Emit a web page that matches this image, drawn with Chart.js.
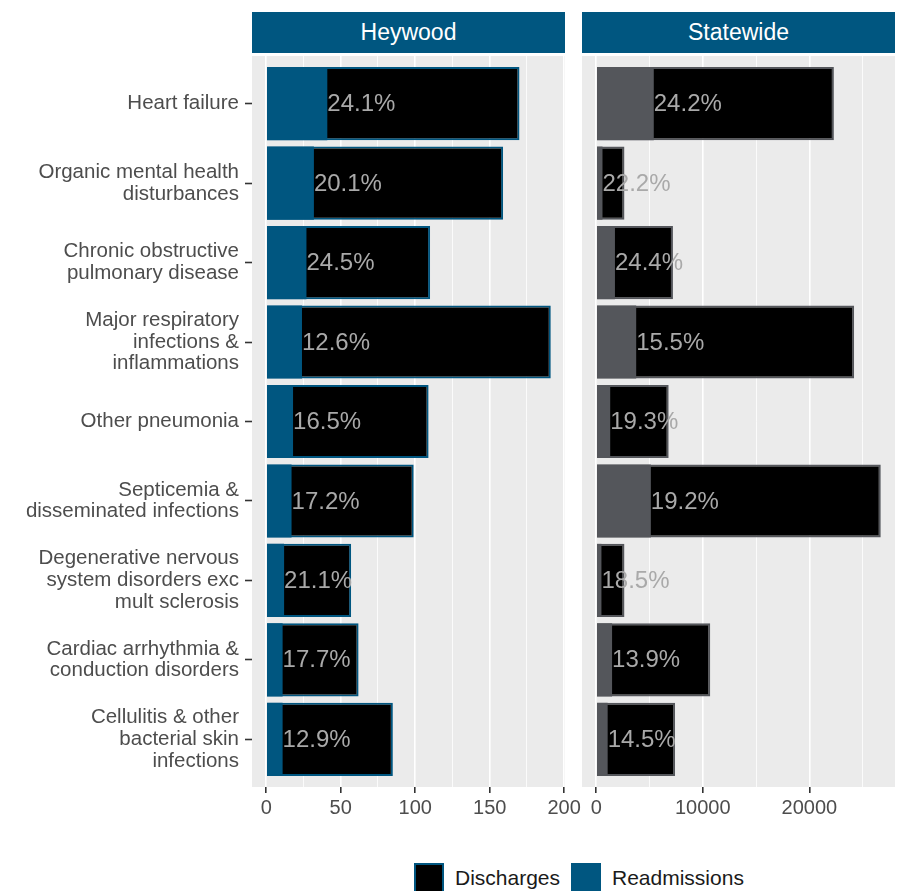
<!DOCTYPE html>
<html>
<head>
<meta charset="utf-8">
<script src="https://cdn.jsdelivr.net/npm/chart.js@4.4.1/dist/chart.umd.min.js"></script>
<style>
  body { margin: 0; background: #fff; font-family: "Liberation Sans", Arial, sans-serif; }
  #wrap { position: relative; width: 897px; height: 891px; overflow: hidden; }
  canvas { position: absolute; }
  .strip { position: absolute; top: 12px; height: 41px; line-height: 41px; background: #005680;
           color: #fff; text-align: center; font-size: 23px; }
  .key { position: absolute; top: 863px; width: 30px; height: 30px; box-sizing: border-box; }
  .ktext { position: absolute; top: 866px; font-size: 21px; color: #1a1a1a; line-height: 24px; }
</style>
</head>
<body>
<div id="wrap">
  <div class="strip" style="left:252px;width:313px;">Heywood</div>
  <div class="strip" style="left:582px;width:313px;">Statewide</div>
  <canvas id="leftChart" width="600" height="774" style="left:0;top:56px;"></canvas>
  <canvas id="rightChart" width="315" height="774" style="left:582px;top:56px;"></canvas>
  <div class="key" style="left:414px;background:#000;border:2.5px solid #005680;"></div>
  <div class="ktext" style="left:455px;">Discharges</div>
  <div class="key" style="left:571px;background:#005680;"></div>
  <div class="ktext" style="left:612px;">Readmissions</div>
</div>
<script>
// --- Data ---
const categories = [
  ['Heart failure'],
  ['Organic mental health', 'disturbances'],
  ['Chronic obstructive', 'pulmonary disease'],
  ['Major respiratory', 'infections &', 'inflammations'],
  ['Other pneumonia'],
  ['Septicemia &', 'disseminated infections'],
  ['Degenerative nervous', 'system disorders exc', 'mult sclerosis'],
  ['Cardiac arrhythmia &', 'conduction disorders'],
  ['Cellulitis & other', 'bacterial skin', 'infections']
];

const heywoodDischarges = [170, 159, 110, 191, 109, 99, 57, 62, 85];
const heywoodReadmissions = [41, 32, 27, 24, 18, 17, 12, 11, 11];
const heywoodPct = ['24.1%', '20.1%', '24.5%', '12.6%', '16.5%', '17.2%', '21.1%', '17.7%', '12.9%'];

const statewideDischarges = [22300, 2650, 7200, 24200, 6800, 26700, 2650, 10700, 7400];
const statewideReadmissions = [5400, 588, 1757, 3750, 1312, 5126, 490, 1487, 1073];
const statewidePct = ['24.2%', '22.2%', '24.4%', '15.5%', '19.3%', '19.2%', '18.5%', '13.9%', '14.5%'];

const heywoodTicks = [0, 50, 100, 150, 200];
const statewideTicks = [0, 10000, 20000];

// --- Colours ---
const BLUE = '#005680';
const GREY = '#54565b';
const PANEL = '#ebebeb';
const AXIS_TEXT = '#4d4d4d';
const FONT = '"Liberation Sans", Arial, sans-serif';

// panel background
const panelBg = {
  id: 'panelBg',
  beforeDraw(chart) {
    const a = chart.chartArea;
    const c = chart.ctx;
    c.save();
    c.fillStyle = PANEL;
    c.fillRect(a.left, a.top, a.right - a.left, a.bottom - a.top);
    c.restore();
  }
};

// percentage text at the end of the readmissions bar
const barLabels = {
  id: 'barLabels',
  afterDatasetsDraw(chart, args, opts) {
    const c = chart.ctx;
    const xs = chart.scales.x;
    const readm = chart.data.datasets[0].data;
    c.save();
    c.font = '24px ' + FONT;
    c.fillStyle = '#a9a9a9';
    c.textAlign = 'left';
    c.textBaseline = 'middle';
    readm.forEach((p, i) => {
      c.fillText(opts.labels[i], xs.getPixelForValue(p.x), chart.scales.y.getPixelForValue(p.y) + 1);
    });
    c.restore();
  }
};

function makeChart(canvasId, discharges, readmissions, pct, color, majors, minorStep, showY, padRight) {
  const maxVal = Math.max(...discharges);
  const pad = maxVal * 0.05;
  const minorTicks = [];
  for (let v = 0; v <= maxVal + pad; v += minorStep) minorTicks.push(v);

  return new Chart(document.getElementById(canvasId), {
    type: 'bar',
    data: {
      datasets: [
        {
          label: 'Readmissions',
          data: readmissions.map((v, i) => ({ x: v, y: i })),
          backgroundColor: color,
          borderColor: color,
          borderWidth: 0,
          grouped: false,
          barPercentage: 0.92,
          categoryPercentage: 1,
          order: 0
        },
        {
          label: 'Discharges',
          data: discharges.map((v, i) => ({ x: v, y: i })),
          backgroundColor: '#000',
          borderColor: color,
          borderWidth: 2,
          borderSkipped: false,
          grouped: false,
          barPercentage: 0.92,
          categoryPercentage: 1,
          order: 1
        }
      ]
    },
    options: {
      indexAxis: 'y',
      responsive: false,
      animation: false,
      layout: { padding: { top: 0, left: 0, right: padRight, bottom: 0 } },
      plugins: {
        legend: { display: false },
        tooltip: { enabled: false },
        barLabels: { labels: pct }
      },
      scales: {
        x: {
          type: 'linear',
          min: -pad,
          max: maxVal + pad,
          afterBuildTicks: (axis) => { axis.ticks = minorTicks.map(v => ({ value: v })); },
          afterFit: (axis) => { axis.height = 43; },
          border: { display: false },
          grid: {
            color: '#ffffff',
            lineWidth: (ctx) => (majors.includes(ctx.tick.value) ? 1.6 : 0.8),
            drawTicks: true,
            tickLength: 6,
            tickWidth: 1.6,
            tickColor: (ctx) => (majors.includes(ctx.tick.value) ? '#333333' : 'rgba(0,0,0,0)')
          },
          ticks: {
            autoSkip: false,
            maxRotation: 0,
            padding: 3,
            color: AXIS_TEXT,
            font: { size: 20, family: FONT },
            callback: (v) => (majors.includes(v) ? String(v) : '')
          }
        },
        y: {
          type: 'linear',
          display: showY,
          reverse: true,
          offset: false,
          min: -0.6,
          max: categories.length - 0.4,
          afterBuildTicks: (axis) => { axis.ticks = categories.map((c, i) => ({ value: i })); },
          afterFit: (axis) => {
            axis.width = showY ? 252 : 0;
            axis.paddingTop = 0;
            axis.paddingBottom = 0;
          },
          border: { display: false },
          grid: {
            offset: false,
            drawOnChartArea: false,
            drawTicks: true,
            tickLength: 7,
            tickWidth: 1.6,
            tickColor: '#333333'
          },
          ticks: {
            autoSkip: false,
            padding: 6,
            color: AXIS_TEXT,
            font: { size: 20.5, family: FONT, lineHeight: 1.06 },
            callback: (v) => categories[v]
          }
        }
      }
    },
    plugins: [panelBg, barLabels]
  });
}

makeChart('leftChart', heywoodDischarges, heywoodReadmissions, heywoodPct, BLUE, heywoodTicks, 25, true, 35);
makeChart('rightChart', statewideDischarges, statewideReadmissions, statewidePct, GREY, statewideTicks, 5000, false, 2);
</script>
</body>
</html>
